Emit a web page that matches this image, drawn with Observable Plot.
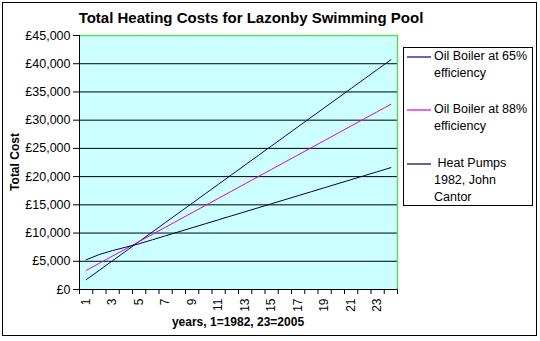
<!DOCTYPE html>
<html><head><meta charset="utf-8">
<script src="https://cdn.jsdelivr.net/npm/d3@7"></script>
<script src="https://cdn.jsdelivr.net/npm/@observablehq/plot@0.6"></script>
<style>
body{margin:0;background:#fff;font-family:Arial,"Liberation Sans",sans-serif;}
#chart{position:relative;width:540px;height:341px;overflow:hidden;background:#fff;}
#border{position:absolute;left:2px;top:2px;width:535px;height:334px;border:1px solid #000;box-sizing:border-box;}
#plot{position:absolute;left:0;top:0;}
#title{position:absolute;left:0;width:502px;top:9px;text-align:center;font-weight:bold;font-size:15px;white-space:nowrap;}
#ytitle{position:absolute;left:15px;top:162px;transform:translate(-50%,-50%) rotate(-90deg);font-weight:bold;font-size:12px;white-space:nowrap;}
#xtitle{position:absolute;left:238px;top:315px;transform:translateX(-50%);font-weight:bold;font-size:12px;white-space:nowrap;}
#legend{position:absolute;left:403px;top:47px;width:130px;height:159px;border:1px solid #000;box-sizing:border-box;background:#fff;}
.entry{position:absolute;left:3px;font-size:12.5px;line-height:17px;}
.entry svg{position:absolute;left:0;top:8px;}
.entry span{display:block;margin-left:27px;white-space:pre;}
</style></head>
<body>
<div id="chart">
  <div id="border"></div>
  <div id="plot"></div>
  <div id="title"></div>
  <div id="ytitle"></div>
  <div id="xtitle"></div>
  <div id="legend"></div>
</div>
<script>
const chartTitle = "Total Heating Costs for Lazonby Swimming Pool";
const yTitle = "Total Cost";
const xTitle = "years, 1=1982, 23=2005";
const years = [1,2,3,4,5,6,7,8,9,10,11,12,13,14,15,16,17,18,19,20,21,22,23,24];
const oil65 = [1720,3415,5110,6805,8500,10195,11890,13585,15280,16975,18670,20365,22060,23755,25450,27145,28840,30535,32230,33925,35620,37315,39010,40705];
const oil88 = [3370,4650,5930,7210,8490,9770,11050,12330,13610,14890,16170,17450,18730,20010,21290,22570,23850,25130,26410,27690,28970,30250,31530,32810];
const heatPumps = [5260,6200,6900,7500,8100,8810,9520,10230,10940,11650,12360,13070,13780,14490,15200,15910,16620,17330,18040,18750,19460,20170,20880,21590];
const seriesNames = ["Oil Boiler at 65%\nefficiency", "Oil Boiler at 88%\nefficiency", " Heat Pumps\n1982, John\nCantor"];
const seriesColors = ["#000080", "#e000e0", "#000050"];
const yTicks = [0,5000,10000,15000,20000,25000,30000,35000,40000,45000];
const xTickLabels = [1,3,5,7,9,11,13,15,17,19,21,23];

const seriesValues = [oil65, oil88, heatPumps];
const rows = [];
seriesValues.forEach((vals, i) => vals.forEach((v, j) => rows.push({year: years[j], cost: v, series: seriesNames[i]})));
const boundaries = years.map(y => y - 0.5).concat([years[years.length - 1] + 0.5]);
const xDomain = [boundaries[0], boundaries[boundaries.length - 1]];
const yMax = yTicks[yTicks.length - 1];
const green = "#5fd85f";

const chart = Plot.plot({
  width: 400,
  height: 340,
  marginLeft: 79,
  marginRight: 3,
  marginTop: 35,
  marginBottom: 51,
  style: {fontFamily: "Arial, 'Liberation Sans', sans-serif", background: "transparent"},
  x: {type: "linear", domain: xDomain},
  y: {domain: [0, yMax]},
  color: {domain: seriesNames, range: seriesColors},
  marks: [
    Plot.frame({fill: "#ccffff", stroke: null}),
    Plot.ruleY(yTicks.slice(1, -1), {stroke: "#000", strokeWidth: 1}),
    Plot.ruleY([yMax], {stroke: green, strokeWidth: 1.5}),
    Plot.ruleX([xDomain[1]], {stroke: green, strokeWidth: 1.5}),
    Plot.line(rows, {x: "year", y: "cost", z: "series", stroke: "series", strokeWidth: 1}),
    Plot.ruleX([xDomain[0]], {stroke: "#000"}),
    Plot.ruleY([0], {stroke: "#000"}),
    Plot.axisY(yTicks, {tickSize: 6, tickPadding: 3, fontSize: 12.5, tickFormat: d => "£" + d3.format(",")(d), label: null, stroke: "#000", color: "#000"}),
    Plot.axisX(boundaries, {tickSize: 5, tickFormat: () => "", label: null, stroke: "#000"}),
    Plot.axisX(xTickLabels, {tickSize: 0, tickPadding: 9, tickRotate: -90, fontSize: 12, label: null, color: "#000"})
  ]
});
document.getElementById("plot").appendChild(chart);
document.getElementById("title").textContent = chartTitle;
document.getElementById("ytitle").textContent = yTitle;
document.getElementById("xtitle").textContent = xTitle;

const legend = document.getElementById("legend");
const entryTops = [0, 53, 107];
seriesNames.forEach((name, i) => {
  const e = document.createElement("div");
  e.className = "entry";
  e.style.top = entryTops[i] + "px";
  e.innerHTML = `<svg width="24" height="2"><line x1="0" x2="24" y1="1" y2="1" stroke="${seriesColors[i]}" stroke-width="1.2"/></svg>`;
  const s = document.createElement("span");
  s.textContent = name;
  e.appendChild(s);
  legend.appendChild(e);
});
</script>
</body></html>
